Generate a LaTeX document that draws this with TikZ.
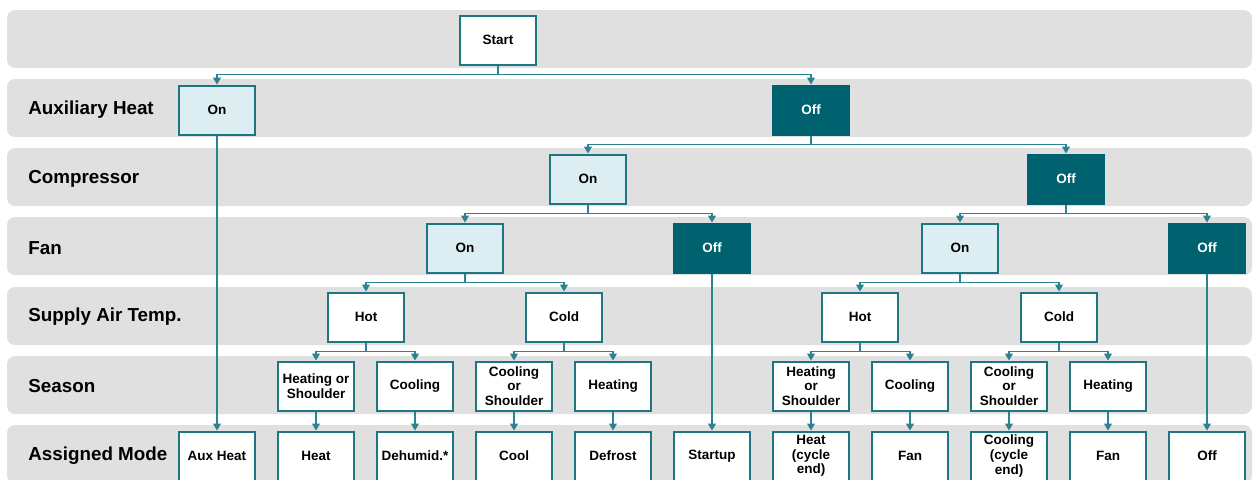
\documentclass[tikz,border=0pt]{standalone}
\usepackage{fontspec}
\setmainfont{Liberation Sans}
\usetikzlibrary{arrows.meta}

\definecolor{tealdark}{HTML}{00616F}
\definecolor{tealedge}{HTML}{1E7683}
\definecolor{tealline}{HTML}{2C8290}
\definecolor{paleblue}{HTML}{DDEEF3}
\definecolor{bandgray}{HTML}{E0E0E0}

\begin{document}
\begin{tikzpicture}[
  x=0.5pt, y=-0.5pt,
  box/.style={draw=tealedge, line width=1pt, fill=white, minimum width=38pt, minimum height=24.5pt,
    inner sep=1pt, align=center, font=\bfseries\fontsize{6.75}{7.3}\selectfont},
  onbox/.style={box, fill=paleblue},
  offbox/.style={box, fill=tealdark, draw=tealdark, text=white},
  rowlabel/.style={anchor=west, inner sep=0pt, font=\bfseries\fontsize{9.4}{10}\selectfont},
  line/.style={draw=tealline, line width=0.6pt, -{Triangle[width=4pt,length=3.5pt]}}
]
\useasboundingbox (0,0) rectangle (1253,479);
\clip (0,0) rectangle (1253,479);

% row bands
\foreach \y in {10,79,148,217,287,356,425}
  \fill[bandgray, rounded corners=4pt] (7,\y) rectangle (1252,\y+58);

% row labels
\node[rowlabel] (lblaux) at (28,110) {Auxiliary Heat};
\node[rowlabel] (lblcomp) at (28,179) {Compressor};
\node[rowlabel] (lblfan) at (28,248) {Fan};
\node[rowlabel] (lblsupply) at (28,317) {Supply Air Temp.};
\node[rowlabel] (lblseason) at (28,386) {Season};
\node[rowlabel] (lblmode) at (28,456) {Assigned Mode};

% decision nodes
\node[box] (start) at (498,40) {Start};
\node[onbox] (auxon) at (217,110) {On};
\node[offbox] (auxoff) at (811,110) {Off};
\node[onbox] (compon) at (588,179) {On};
\node[offbox] (compoff) at (1066,179) {Off};
\node[onbox] (fanon1) at (465,248) {On};
\node[offbox] (fanoff1) at (712,248) {Off};
\node[onbox] (fanon2) at (960,248) {On};
\node[offbox] (fanoff2) at (1207,248) {Off};
\node[box] (hot1) at (366,317) {Hot};
\node[box] (cold1) at (564,317) {Cold};
\node[box] (hot2) at (860,317) {Hot};
\node[box] (cold2) at (1059,317) {Cold};

% season
\node[box] (s1) at (316,386) {Heating or\\Shoulder};
\node[box] (s2) at (415,386) {Cooling};
\node[box] (s3) at (514,386) {Cooling\\or\\Shoulder};
\node[box] (s4) at (613,386) {Heating};
\node[box] (s5) at (811,386) {Heating\\or\\Shoulder};
\node[box] (s6) at (910,386) {Cooling};
\node[box] (s7) at (1009,386) {Cooling\\or\\Shoulder};
\node[box] (s8) at (1108,386) {Heating};

% assigned modes
\node[box] (m1) at (217,456) {Aux Heat};
\node[box] (m2) at (316,456) {Heat};
\node[box] (m3) at (415,456) {Dehumid.*};
\node[box] (m4) at (514,456) {Cool};
\node[box] (m5) at (613,456) {Defrost};
\node[box] (m6) at (712,456) {Startup};
\node[box] (m7) at (811,456) {Heat\\(cycle\\end)};
\node[box] (m8) at (910,456) {Fan};
\node[box] (m9) at (1009,456) {Cooling\\(cycle\\end)};
\node[box] (m10) at (1108,456) {Fan};
\node[box] (m11) at (1207,456) {Off};

% branches
\foreach \a/\b in {start/auxon, start/auxoff, auxoff/compon, auxoff/compoff,
  compon/fanon1, compon/fanoff1, compoff/fanon2, compoff/fanoff2,
  fanon1/hot1, fanon1/cold1, fanon2/hot2, fanon2/cold2,
  hot1/s1, hot1/s2, cold1/s3, cold1/s4, hot2/s5, hot2/s6, cold2/s7, cold2/s8}
  \draw[line] (\a.south) -- ++(0,9) -| (\b.north);

% straight drops
\foreach \a/\b in {auxon/m1, fanoff1/m6, fanoff2/m11,
  s1/m2, s2/m3, s3/m4, s4/m5, s5/m7, s6/m8, s7/m9, s8/m10}
  \draw[line] (\a.south) -- (\b.north);
\end{tikzpicture}
\end{document}
